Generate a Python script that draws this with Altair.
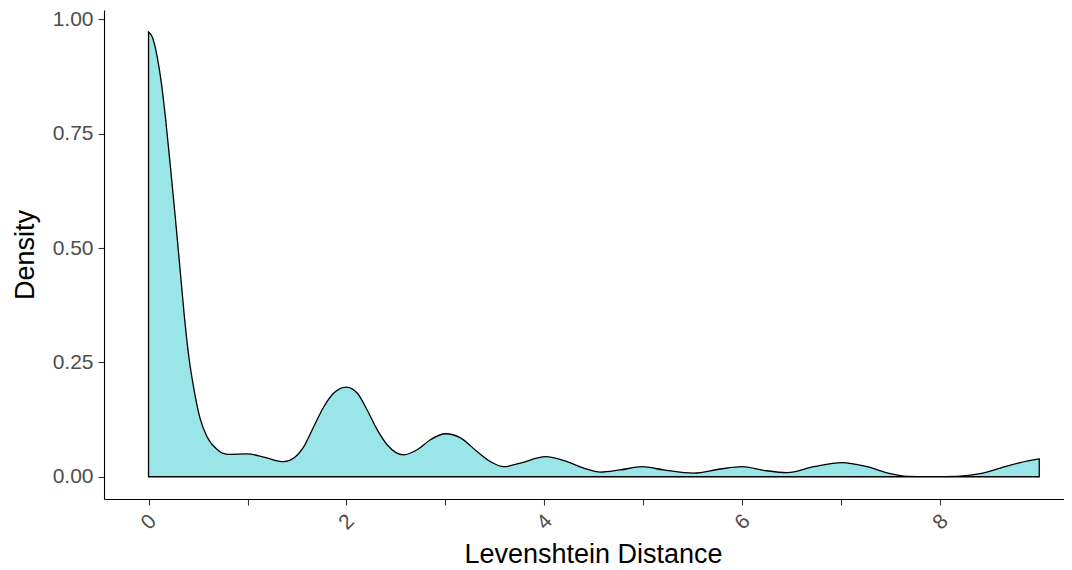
import altair as alt
import pandas as pd

# Levenshtein distance (x) and estimated density (y)
distance = [0.0, 0.04, 0.09, 0.13, 0.17, 0.22, 0.27, 0.32, 0.36, 0.41,
            0.46, 0.52, 0.59, 0.69, 0.80, 0.997, 1.165, 1.367, 1.468, 1.569,
            1.670, 1.771, 1.872, 1.997, 2.108, 2.209, 2.310, 2.411, 2.579, 2.714,
            2.848, 3.0, 3.152, 3.320, 3.455, 3.589, 3.758, 4.010, 4.229, 4.397,
            4.566, 4.768, 4.987, 5.205, 5.508, 5.778, 5.997, 6.215, 6.452, 6.720,
            7.007, 7.260, 7.495, 7.664, 7.899, 8.169, 8.404, 8.606, 8.808, 9.0]
density = [0.972, 0.960, 0.915, 0.860, 0.787, 0.680, 0.568, 0.450, 0.355, 0.258,
           0.190, 0.128, 0.088, 0.060, 0.049, 0.050, 0.043, 0.033, 0.041, 0.066,
           0.110, 0.153, 0.183, 0.196, 0.183, 0.146, 0.103, 0.070, 0.048, 0.059,
           0.081, 0.094, 0.085, 0.055, 0.033, 0.022, 0.030, 0.044, 0.033, 0.019,
           0.010, 0.015, 0.022, 0.015, 0.008, 0.017, 0.022, 0.014, 0.009, 0.022,
           0.031, 0.022, 0.007, 0.001, 0.000, 0.001, 0.007, 0.019, 0.031, 0.039]

x_ticks = [0, 1, 2, 3, 4, 5, 6, 7, 8]
y_ticks = [0.0, 0.25, 0.5, 0.75, 1.0]

df = pd.DataFrame({"distance": distance, "density": density})

FONT = "Liberation Sans"

chart = alt.Chart(df).mark_area(
    interpolate="monotone",
    fill="#99E5E7",
    stroke="black",
    strokeWidth=1.3,
).encode(
    x=alt.X(
        "distance:Q",
        scale=alt.Scale(domain=[-0.45, 9.25], nice=False, zero=False),
        axis=alt.Axis(
            values=x_ticks,
            labelExpr="datum.value % 2 == 0 ? datum.label : ''",
            labelAngle=-45,
            labelAlign="center",
            labelBaseline="middle",
            labelPadding=17,
            labelFontSize=21,
            title="Levenshtein Distance",
            titleX=489,
            titleY=63,
            titleAlign="center",
            titleBaseline="alphabetic",
        ),
    ),
    y=alt.Y(
        "density:Q",
        scale=alt.Scale(domain=[-0.0486, 1.0202], nice=False, zero=False),
        axis=alt.Axis(
            values=y_ticks,
            format=".2f",
            labelPadding=5,
            labelFontSize=21,
            title="Density",
            titleAngle=270,
            titleX=-71,
            titleY=244.5,
            titleAlign="center",
            titleBaseline="alphabetic",
        ),
    ),
    y2=alt.datum(0),
).properties(
    width=960,
    height=489,
    autosize=alt.AutoSizeParams(type="none"),
    padding={"left": 96, "top": 2, "right": 0, "bottom": 70},
).configure_view(
    stroke=None,
).configure_axis(
    grid=False,
    domainColor="black",
    domainWidth=1.1,
    tickColor="#333333",
    tickWidth=1.1,
    tickSize=6,
    labelColor="#4D4D4D",
    labelFont=FONT,
    titleFont=FONT,
    titleFontSize=27,
    titleFontWeight="normal",
    titleColor="black",
)

chart.save("out.html", embed_options={"renderer": "svg", "actions": False})
